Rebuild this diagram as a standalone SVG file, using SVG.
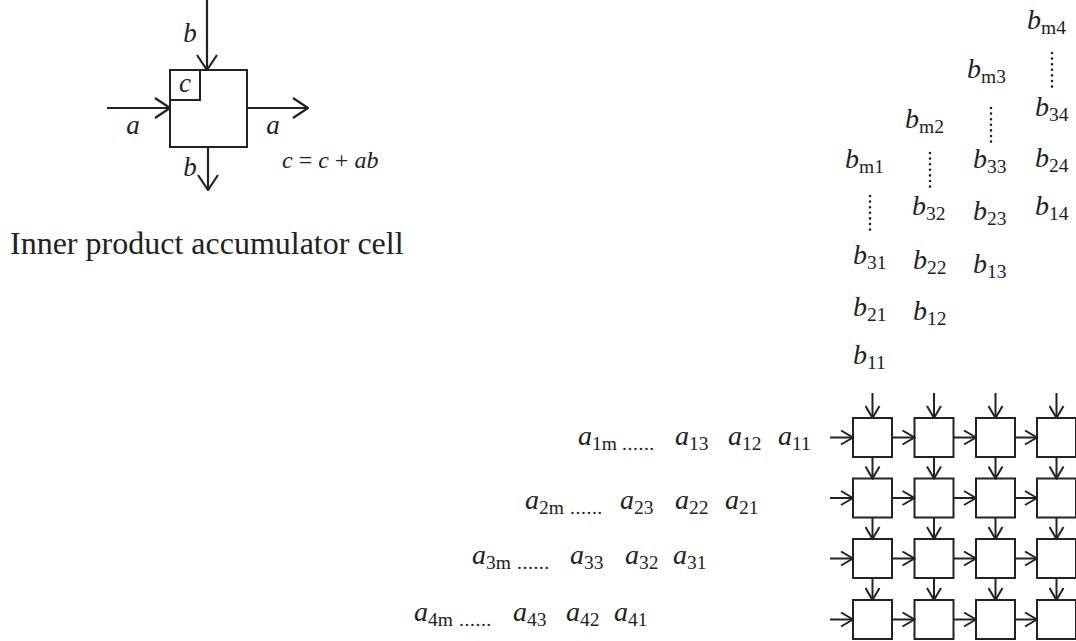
<svg xmlns="http://www.w3.org/2000/svg" width="1076" height="641" viewBox="0 0 1076 641">
<defs>
<style>
.bg{fill:#fff}
.box{fill:#fff;stroke:#222;stroke-width:2}
.ln{fill:none;stroke:#222;stroke-width:2}
.lnb{fill:none;stroke:#222;stroke-width:2.2}
.t{font-family:"Liberation Serif",serif;fill:#222}
.v{font-style:italic;font-size:28px}
.s{font-style:normal;font-size:19.5px}
.dt{font-family:"Liberation Serif",serif;fill:#222;font-size:19.5px;letter-spacing:0.6px}
.cl{font-family:"Liberation Serif",serif;fill:#222;font-style:italic;font-size:27px}
.dots{fill:none;stroke:#222;stroke-width:2.6;stroke-linecap:round;stroke-dasharray:0 5.6}
</style>
<marker id="ah" viewBox="0 0 14 16" refX="13" refY="8" markerWidth="14" markerHeight="16" markerUnits="userSpaceOnUse" orient="auto">
<path d="M1,1 L13,8 L1,15" fill="none" stroke="#222" stroke-width="2"/>
</marker>
<marker id="ahb" viewBox="0 0 17 22" refX="16" refY="11" markerWidth="17" markerHeight="22" markerUnits="userSpaceOnUse" orient="auto">
<path d="M1,1 L16,11 L1,21" fill="none" stroke="#222" stroke-width="2.2"/>
</marker>
</defs>
<rect class="bg" x="0" y="0" width="1076" height="641"/>

<!-- legend cell -->
<g id="legend-cell">
<rect class="box" x="170" y="70" width="77" height="77" stroke-width="2.2"/>
<rect class="box" x="170" y="70" width="30" height="30" stroke-width="2.2"/>
<text class="cl" x="185" y="92" text-anchor="middle">c</text>
</g>
<g id="legend-labels">
<text class="cl" x="190" y="42" text-anchor="middle">b</text>
<text class="cl" x="133" y="134" text-anchor="middle">a</text>
<text class="cl" x="273" y="134" text-anchor="middle">a</text>
<text class="cl" x="190" y="176" text-anchor="middle">b</text>
<text class="t" x="282" y="168" font-size="24"><tspan font-style="italic">c</tspan> = <tspan font-style="italic">c</tspan> + <tspan font-style="italic">ab</tspan></text>
<text class="t" x="10" y="254" font-size="32">Inner product accumulator cell</text>
</g>

<!-- b inputs -->
<g id="b-inputs">
<text class="t" x="1027" y="29"><tspan class="v">b</tspan><tspan class="s" dy="5">m4</tspan></text>
<text class="t" x="967" y="78"><tspan class="v">b</tspan><tspan class="s" dy="5">m3</tspan></text>
<text class="t" x="1035" y="116"><tspan class="v">b</tspan><tspan class="s" dy="5">34</tspan></text>
<text class="t" x="905" y="128"><tspan class="v">b</tspan><tspan class="s" dy="5">m2</tspan></text>
<text class="t" x="845" y="168"><tspan class="v">b</tspan><tspan class="s" dy="5">m1</tspan></text>
<text class="t" x="973" y="168"><tspan class="v">b</tspan><tspan class="s" dy="5">33</tspan></text>
<text class="t" x="1035" y="167"><tspan class="v">b</tspan><tspan class="s" dy="5">24</tspan></text>
<text class="t" x="912" y="215"><tspan class="v">b</tspan><tspan class="s" dy="5">32</tspan></text>
<text class="t" x="973" y="220"><tspan class="v">b</tspan><tspan class="s" dy="5">23</tspan></text>
<text class="t" x="1035" y="215"><tspan class="v">b</tspan><tspan class="s" dy="5">14</tspan></text>
<text class="t" x="853" y="264"><tspan class="v">b</tspan><tspan class="s" dy="5">31</tspan></text>
<text class="t" x="913" y="269"><tspan class="v">b</tspan><tspan class="s" dy="5">22</tspan></text>
<text class="t" x="973" y="273"><tspan class="v">b</tspan><tspan class="s" dy="5">13</tspan></text>
<text class="t" x="853" y="316"><tspan class="v">b</tspan><tspan class="s" dy="5">21</tspan></text>
<text class="t" x="913" y="320"><tspan class="v">b</tspan><tspan class="s" dy="5">12</tspan></text>
<text class="t" x="853" y="364"><tspan class="v">b</tspan><tspan class="s" dy="5">11</tspan></text>
<path class="dots" d="M1052,53 V89 M991,108 V143 M930,153 V188 M870,196 V231"/>
</g>

<!-- a inputs -->
<g id="a-inputs">
<text class="t" x="578" y="445"><tspan class="v">a</tspan><tspan class="s" dy="5">1m</tspan></text>
<text class="dt" x="622" y="450">......</text>
<text class="t" x="675" y="445"><tspan class="v">a</tspan><tspan class="s" dy="5">13</tspan></text>
<text class="t" x="728" y="445"><tspan class="v">a</tspan><tspan class="s" dy="5">12</tspan></text>
<text class="t" x="778" y="445"><tspan class="v">a</tspan><tspan class="s" dy="5">11</tspan></text>

<text class="t" x="525" y="509"><tspan class="v">a</tspan><tspan class="s" dy="5">2m</tspan></text>
<text class="dt" x="570" y="514">......</text>
<text class="t" x="620" y="509"><tspan class="v">a</tspan><tspan class="s" dy="5">23</tspan></text>
<text class="t" x="675" y="509"><tspan class="v">a</tspan><tspan class="s" dy="5">22</tspan></text>
<text class="t" x="725" y="509"><tspan class="v">a</tspan><tspan class="s" dy="5">21</tspan></text>

<text class="t" x="472" y="564"><tspan class="v">a</tspan><tspan class="s" dy="5">3m</tspan></text>
<text class="dt" x="517" y="569">......</text>
<text class="t" x="570" y="564"><tspan class="v">a</tspan><tspan class="s" dy="5">33</tspan></text>
<text class="t" x="625" y="564"><tspan class="v">a</tspan><tspan class="s" dy="5">32</tspan></text>
<text class="t" x="673" y="564"><tspan class="v">a</tspan><tspan class="s" dy="5">31</tspan></text>

<text class="t" x="414" y="621"><tspan class="v">a</tspan><tspan class="s" dy="5">4m</tspan></text>
<text class="dt" x="459" y="626">......</text>
<text class="t" x="513" y="621"><tspan class="v">a</tspan><tspan class="s" dy="5">43</tspan></text>
<text class="t" x="566" y="621"><tspan class="v">a</tspan><tspan class="s" dy="5">42</tspan></text>
<text class="t" x="614" y="621"><tspan class="v">a</tspan><tspan class="s" dy="5">41</tspan></text>
</g>

<!-- grid cells -->
<g id="cell-1-1"><rect class="box" x="853" y="418" width="39" height="39"/></g>
<g id="cell-1-2"><rect class="box" x="914.5" y="418" width="39" height="39"/></g>
<g id="cell-1-3"><rect class="box" x="976" y="418" width="39" height="39"/></g>
<g id="cell-1-4"><rect class="box" x="1037" y="418" width="39" height="39"/></g>
<g id="cell-2-1"><rect class="box" x="853" y="478.5" width="39" height="39"/></g>
<g id="cell-2-2"><rect class="box" x="914.5" y="478.5" width="39" height="39"/></g>
<g id="cell-2-3"><rect class="box" x="976" y="478.5" width="39" height="39"/></g>
<g id="cell-2-4"><rect class="box" x="1037" y="478.5" width="39" height="39"/></g>
<g id="cell-3-1"><rect class="box" x="853" y="539" width="39" height="39"/></g>
<g id="cell-3-2"><rect class="box" x="914.5" y="539" width="39" height="39"/></g>
<g id="cell-3-3"><rect class="box" x="976" y="539" width="39" height="39"/></g>
<g id="cell-3-4"><rect class="box" x="1037" y="539" width="39" height="39"/></g>
<g id="cell-4-1"><rect class="box" x="853" y="600" width="39" height="39"/></g>
<g id="cell-4-2"><rect class="box" x="914.5" y="600" width="39" height="39"/></g>
<g id="cell-4-3"><rect class="box" x="976" y="600" width="39" height="39"/></g>
<g id="cell-4-4"><rect class="box" x="1037" y="600" width="39" height="39"/></g>

<!-- connectors -->
<g id="connectors">
<line class="lnb" x1="207" y1="0" x2="207" y2="70" marker-end="url(#ahb)"/>
<line class="lnb" x1="107" y1="108" x2="170" y2="108" marker-end="url(#ahb)"/>
<line class="lnb" x1="247" y1="108" x2="308" y2="108" marker-end="url(#ahb)"/>
<line class="lnb" x1="208" y1="147" x2="208" y2="190" marker-end="url(#ahb)"/>
<line class="ln" x1="872.5" y1="393" x2="872.5" y2="418" marker-end="url(#ah)"/>
<line class="ln" x1="934" y1="393" x2="934" y2="418" marker-end="url(#ah)"/>
<line class="ln" x1="995.5" y1="393" x2="995.5" y2="418" marker-end="url(#ah)"/>
<line class="ln" x1="1056.5" y1="393" x2="1056.5" y2="418" marker-end="url(#ah)"/>
<line class="ln" x1="872.5" y1="457" x2="872.5" y2="478.5" marker-end="url(#ah)"/>
<line class="ln" x1="934" y1="457" x2="934" y2="478.5" marker-end="url(#ah)"/>
<line class="ln" x1="995.5" y1="457" x2="995.5" y2="478.5" marker-end="url(#ah)"/>
<line class="ln" x1="1056.5" y1="457" x2="1056.5" y2="478.5" marker-end="url(#ah)"/>
<line class="ln" x1="872.5" y1="517.5" x2="872.5" y2="539" marker-end="url(#ah)"/>
<line class="ln" x1="934" y1="517.5" x2="934" y2="539" marker-end="url(#ah)"/>
<line class="ln" x1="995.5" y1="517.5" x2="995.5" y2="539" marker-end="url(#ah)"/>
<line class="ln" x1="1056.5" y1="517.5" x2="1056.5" y2="539" marker-end="url(#ah)"/>
<line class="ln" x1="872.5" y1="578" x2="872.5" y2="600" marker-end="url(#ah)"/>
<line class="ln" x1="934" y1="578" x2="934" y2="600" marker-end="url(#ah)"/>
<line class="ln" x1="995.5" y1="578" x2="995.5" y2="600" marker-end="url(#ah)"/>
<line class="ln" x1="1056.5" y1="578" x2="1056.5" y2="600" marker-end="url(#ah)"/>
<line class="ln" x1="830" y1="437.5" x2="853" y2="437.5" marker-end="url(#ah)"/>
<line class="ln" x1="892" y1="437.5" x2="914.5" y2="437.5" marker-end="url(#ah)"/>
<line class="ln" x1="953.5" y1="437.5" x2="976" y2="437.5" marker-end="url(#ah)"/>
<line class="ln" x1="1015" y1="437.5" x2="1037" y2="437.5" marker-end="url(#ah)"/>
<line class="ln" x1="830" y1="498" x2="853" y2="498" marker-end="url(#ah)"/>
<line class="ln" x1="892" y1="498" x2="914.5" y2="498" marker-end="url(#ah)"/>
<line class="ln" x1="953.5" y1="498" x2="976" y2="498" marker-end="url(#ah)"/>
<line class="ln" x1="1015" y1="498" x2="1037" y2="498" marker-end="url(#ah)"/>
<line class="ln" x1="830" y1="558.5" x2="853" y2="558.5" marker-end="url(#ah)"/>
<line class="ln" x1="892" y1="558.5" x2="914.5" y2="558.5" marker-end="url(#ah)"/>
<line class="ln" x1="953.5" y1="558.5" x2="976" y2="558.5" marker-end="url(#ah)"/>
<line class="ln" x1="1015" y1="558.5" x2="1037" y2="558.5" marker-end="url(#ah)"/>
<line class="ln" x1="830" y1="619.5" x2="853" y2="619.5" marker-end="url(#ah)"/>
<line class="ln" x1="892" y1="619.5" x2="914.5" y2="619.5" marker-end="url(#ah)"/>
<line class="ln" x1="953.5" y1="619.5" x2="976" y2="619.5" marker-end="url(#ah)"/>
<line class="ln" x1="1015" y1="619.5" x2="1037" y2="619.5" marker-end="url(#ah)"/>
</g>
</svg>
